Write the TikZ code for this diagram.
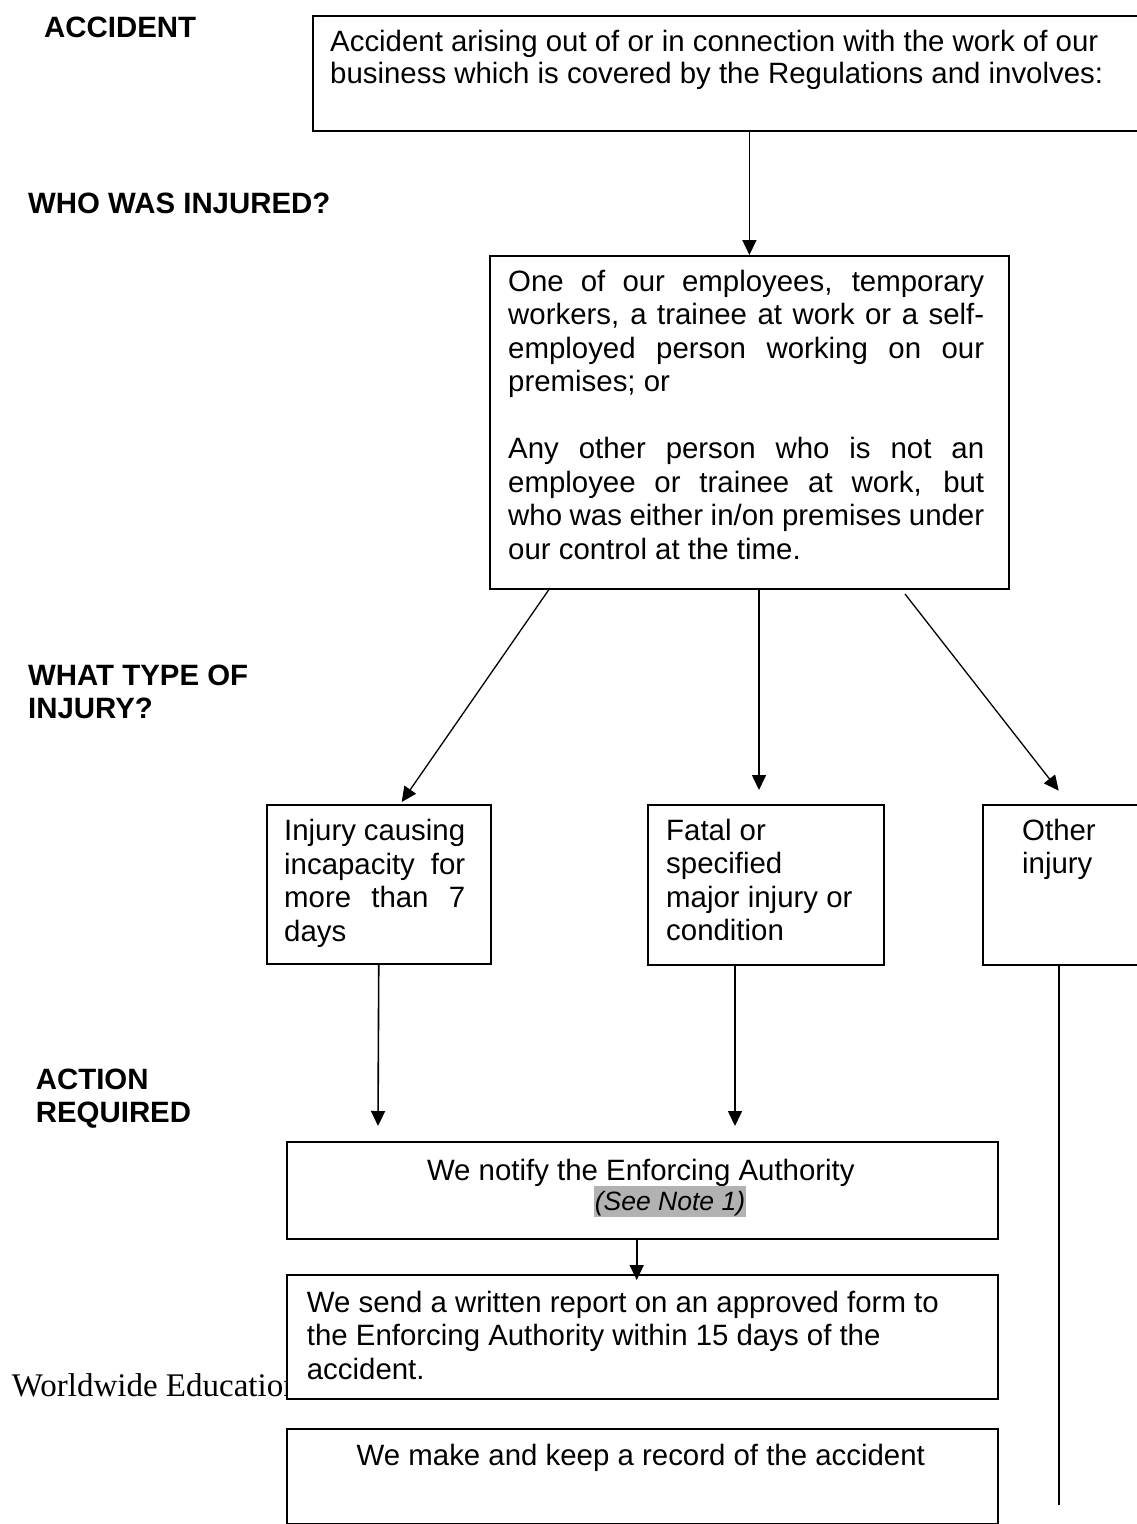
\documentclass[tikz,border=0pt]{standalone}
\usepackage{fontspec}
\setmainfont{Liberation Sans}
\newfontfamily\wfont{Liberation Serif}
\usetikzlibrary{arrows.meta}
\begin{document}
\begin{tikzpicture}[x=1pt,y=-1pt,
  box/.style={draw, line width=1.8pt, fill=white, inner sep=0pt, anchor=north west},
  txt/.style={font=\fontsize{29.4}{33.5}\selectfont, inner sep=0pt, anchor=base west},
  hdr/.style={font=\bfseries\fontsize{29.4}{33.5}\selectfont, inner sep=0pt, anchor=base west},
  arr/.style={line width=1.6pt, -{Triangle[length=15pt,width=14pt]}},
  conn/.style={line width=1.6pt}]
\useasboundingbox (0,0) rectangle (1136,1524);
\fill[white] (0,0) rectangle (1136,1524);

% headers
\node[hdr] (h1) at (44,37.7) {ACCIDENT};
\node[hdr] (h2) at (28,213) {WHO WAS INJURED?};
\node[hdr] (h3) at (28,685) {\parbox[t]{320pt}{WHAT TYPE OF\\INJURY?}};
\node[hdr] (h4) at (35.7,1089) {\parbox[t]{320pt}{ACTION\\REQUIRED}};

% boxes
\node[box, minimum width=838pt, minimum height=115.3pt] (b1) at (312,14.7) {};
\node[txt] (t1) at (330,51) {\parbox[t]{800pt}{Accident arising out of or in connection with the work of our\\[-1pt]business which is covered by the Regulations and involves:}};

\node[box, minimum width=519pt, minimum height=333pt] (b2) at (489,255) {};
\node[txt] (t2) at (508,291) {\parbox[t]{476pt}{%
\makebox[\linewidth][s]{One of our employees, temporary}\\
\makebox[\linewidth][s]{workers, a trainee at work or a self-}\\
\makebox[\linewidth][s]{employed person working on our}\\
premises; or\\[33.5pt]
\makebox[\linewidth][s]{Any other person who is not an}\\
\makebox[\linewidth][s]{employee or trainee at work, but}\\
\makebox[\linewidth][s]{who was either in/on premises under}\\
our control at the time.}};

\node[box, minimum width=224.3pt, minimum height=159pt] (b3) at (265.7,804) {};
\node[txt] (t3) at (284,840.7) {\parbox[t]{181pt}{%
\makebox[\linewidth][s]{Injury causing}\\
\makebox[\linewidth][s]{incapacity for}\\
\makebox[\linewidth][s]{more than 7}\\
days}};

\node[box, minimum width=236pt, minimum height=160pt] (b4) at (647,804) {};
\node[txt] (t4) at (666,840) {\parbox[t]{210pt}{Fatal or\\specified\\major injury or\\condition}};

\node[box, minimum width=160pt, minimum height=160pt] (b5) at (981.7,804) {};
\node[txt] (t5) at (1022,840) {\parbox[t]{110pt}{Other\\injury}};

\node[box, minimum width=711pt, minimum height=96.7pt] (b6) at (285.7,1141) {};
\node[txt, anchor=base] (t6) at (640.8,1180) {We notify the Enforcing Authority};
\node[font=\itshape\fontsize{26.5}{30}\selectfont, fill=black!30, inner xsep=1pt, inner ysep=0pt,
      text height=24pt, text depth=6.7pt, anchor=base] (t6b) at (670,1210) {(See Note 1)};

\node[txt] (w) at (11.7,1396.7) {\wfont\fontsize{33}{38}\selectfont Worldwide Education};

\node[box, minimum width=711pt, minimum height=123.7pt] (b7) at (285.7,1274) {};
\node[txt] (t7) at (306.7,1312) {\parbox[t]{680pt}{We send a written report on an approved form to\\the Enforcing Authority within 15 days of the\\accident.}};

\node[box, minimum width=711pt, minimum height=94.7pt] (b8) at (285.7,1428.3) {};
\node[txt, anchor=base] (t8) at (640.8,1465) {We make and keep a record of the accident};

% connector end points
\coordinate (s2) at (550,588);
\coordinate (e2) at (401.7,802);
\coordinate (s3) at (759,588);
\coordinate (e3) at (759,790);
\coordinate (s4) at (905,594);
\coordinate (e4) at (1058.7,790.7);
\coordinate (e5) at (378,1126);
\coordinate (s6) at (735,964);
\coordinate (e6) at (735,1126);
\coordinate (s7) at (1058.7,964);
\coordinate (e7) at (1058.7,1505);
\coordinate (s8) at (636.7,1237.7);
\coordinate (e8) at (636.7,1280);

% connectors
\draw[arr] (b1.south -| b2.north) -- (b2.north);
\draw[arr, line width=1.3pt] (s2) -- (e2);
\draw[arr] (s3) -- (e3);
\draw[arr, line width=1.3pt] (s4) -- (e4);
\draw[arr] (b3.south) -- (e5);
\draw[arr] (s6) -- (e6);
\draw[conn] (s7) -- (e7);
\draw[arr] (s8) -- (e8);
\end{tikzpicture}
\end{document}
